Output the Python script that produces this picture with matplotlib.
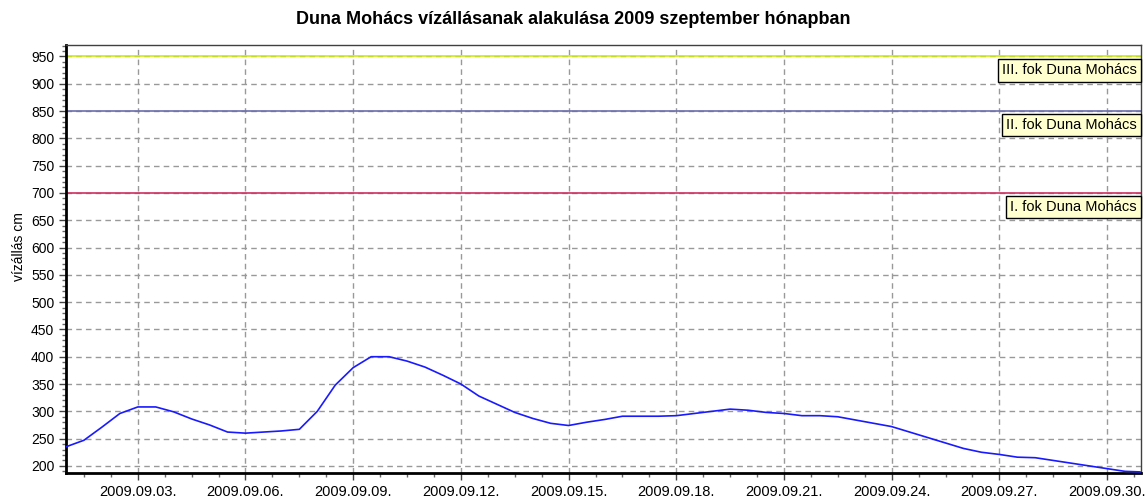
import datetime as dt
import pandas as pd
import matplotlib
matplotlib.use("Agg")
import matplotlib.pyplot as plt
import matplotlib.dates as mdates
from matplotlib.ticker import MultipleLocator, FixedLocator

plt.rcParams["font.family"] = ["Liberation Sans", "DejaVu Sans"]

# water level readings, every 12 hours from 2009.09.01 00:00, last one at 09.30 22:00
levels = [
    235, 247, 271, 296, 308, 308, 299, 286, 275, 262,
    260, 262, 264, 267, 300, 348, 380, 400, 400, 392,
    381, 366, 350, 328, 313, 298, 287, 278, 274, 280,
    285, 291, 291, 291, 292, 296, 300, 304, 302, 298,
    296, 292, 292, 290, 284, 278, 272, 262, 252, 242,
    232, 225, 221, 216, 215, 210, 205, 200, 195, 190,
    189,
]
times = list(pd.date_range("2009-09-01 00:00", periods=len(levels) - 1, freq="12h"))
times.append(pd.Timestamp("2009-09-30 22:00"))

# warning levels
alarm_levels = [700, 850, 950]
alarm_names = ["I. fok Duna Mohács", "II. fok Duna Mohács", "III. fok Duna Mohács"]
alarm_colors = ["#d03060", "#6a6ead", "#d0ea10"]

fig = plt.figure(figsize=(11.46, 5.0), dpi=100)
ax = fig.add_axes([0.0576, 0.054, 0.938, 0.856])

ax.plot(times, levels, color="#1a1aff", lw=1.2, zorder=3)

for lvl, name, col in zip(alarm_levels, alarm_names, alarm_colors):
    ax.axhline(lvl, color=col, lw=1.2, zorder=2)
    ax.annotate(name, xy=(1, lvl), xycoords=("axes fraction", "data"),
                xytext=(-4, -7), textcoords="offset pixels",
                ha="right", va="top", fontsize=10.5, zorder=4,
                bbox=dict(boxstyle="square,pad=0.28", fc="#ffffd0", ec="black", lw=1))

ax.set_xlim(dt.datetime(2009, 9, 1), dt.datetime(2009, 9, 30, 22, 40))
ax.set_ylim(187, 971)

ax.xaxis.set_major_locator(mdates.DayLocator(bymonthday=range(3, 31, 3)))
ax.xaxis.set_major_formatter(mdates.DateFormatter("%Y.%m.%d."))
minor_x = pd.date_range("2009-09-01 12:00", "2009-09-30 23:00", freq="18h")
ax.xaxis.set_minor_locator(FixedLocator(mdates.date2num(minor_x.to_pydatetime())))
ax.yaxis.set_major_locator(MultipleLocator(50))
ax.yaxis.set_minor_locator(MultipleLocator(10))

ax.tick_params(axis="both", which="major", labelsize=10, length=5, width=1, color="#444444")
ax.tick_params(axis="x", which="major", labelsize=10.5)
ax.tick_params(axis="both", which="minor", length=3, width=1, color="#666666")

ax.grid(True, which="major", color="#999999", linestyle=(0, (4, 3)), lw=1)
ax.set_axisbelow(True)

for side in ["left", "bottom"]:
    ax.spines[side].set_linewidth(2)
    ax.spines[side].set_color("black")
for side in ["top", "right"]:
    ax.spines[side].set_linewidth(1)
    ax.spines[side].set_color("#404040")

ax.set_ylabel("vízállás cm", fontsize=10)
ax.yaxis.set_label_coords(-0.037, 0.53)
fig.text(0.5, 0.96, "Duna Mohács vízállásanak alakulása 2009 szeptember hónapban",
         ha="center", va="center", fontsize=13, fontweight="bold")

fig.savefig("out.png", dpi=100)
